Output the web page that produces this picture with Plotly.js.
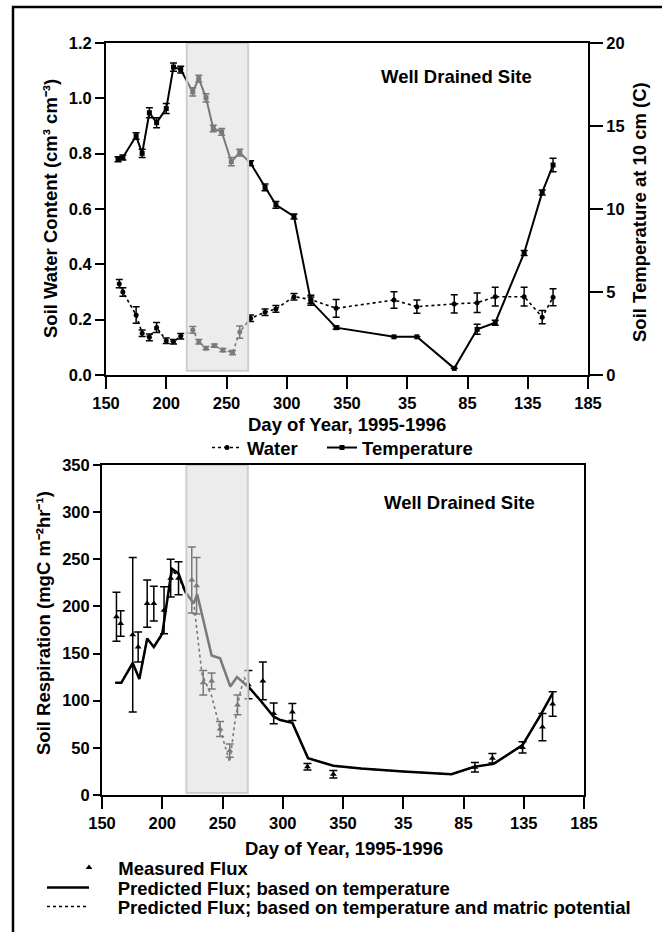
<!DOCTYPE html>
<html>
<head>
<meta charset="utf-8">
<script src="https://cdn.plot.ly/plotly-3.0.1.min.js"></script>
<style>html,body{margin:0;padding:0;background:#fff}#chart{width:662px;height:932px}</style>
</head>
<body>
<div id="chart"></div>
<script>
// ---- Data (day of year, continuous: 1996 days = 365 + day) ----
const dayTickVals = [150, 200, 250, 300, 350, 400, 450, 500, 550];
const dayTickText = ['150', '200', '250', '300', '350', '35', '85', '135', '185'];

// Top panel: soil water content (cm3 cm-3)
const waterDay = [161, 164, 175, 180, 186, 192, 200, 206, 212, 222, 227, 233, 240, 247, 255, 261, 270, 282, 291, 306, 320, 341, 389, 408, 439, 458, 473, 497, 512, 521];
const waterVal = [0.33, 0.30, 0.217, 0.151, 0.136, 0.172, 0.124, 0.120, 0.140, 0.163, 0.120, 0.097, 0.106, 0.090, 0.081, 0.155, 0.205, 0.227, 0.239, 0.283, 0.273, 0.241, 0.271, 0.247, 0.257, 0.261, 0.283, 0.283, 0.209, 0.281];
const waterErr = [0.015, 0.015, 0.03, 0.012, 0.012, 0.018, 0.01, 0.008, 0.01, 0.012, 0.008, 0.006, 0.006, 0.006, 0.008, 0.022, 0.012, 0.012, 0.012, 0.012, 0.015, 0.032, 0.03, 0.024, 0.033, 0.035, 0.034, 0.034, 0.024, 0.031];

// Top panel: soil temperature at 10 cm (C)
const tempDay = [160, 164, 175, 180, 186, 192, 200, 206, 212, 222, 227, 233, 239, 246, 254, 261, 270, 282, 291, 306, 320, 341, 389, 408, 439, 458, 473, 497, 512, 521];
const tempVal = [13.0, 13.1, 14.4, 13.35, 15.8, 15.2, 16.05, 18.55, 18.4, 17.05, 17.85, 16.7, 14.85, 14.65, 12.85, 13.4, 12.75, 11.3, 10.25, 9.55, 4.45, 2.85, 2.3, 2.3, 0.4, 2.75, 3.15, 7.35, 11.0, 12.65];
const tempErr = [0.15, 0.15, 0.2, 0.25, 0.3, 0.3, 0.3, 0.25, 0.2, 0.25, 0.2, 0.25, 0.2, 0.2, 0.25, 0.2, 0.15, 0.2, 0.2, 0.15, 0.25, 0.1, 0, 0, 0, 0.3, 0.15, 0.15, 0.15, 0.4];

// Bottom panel: measured flux (mgC m-2 hr-1)
const fluxDay = [162, 165.5, 175.5, 180, 187.5, 193, 201.5, 207, 213.5, 224.5, 228.5, 234, 241, 248, 256, 262.5, 271.5, 283.5, 292.5, 308, 320.5, 342, 459.5, 474, 499, 515.5, 524];
const fluxVal = [189, 182, 170, 157, 203, 203, 196, 230, 230, 228, 222, 119, 121, 70, 47, 95.5, 117, 121, 86.5, 88, 30, 22, 29.5, 39, 50.5, 72, 96.5];
const fluxErr = [26, 13.5, 82, 16, 25, 18.5, 25, 20, 17.5, 35, 30, 13, 8.5, 8, 7, 10.5, 15, 20, 11, 9, 3.5, 4, 5, 5, 6, 14.5, 13];

// Predicted flux based on temperature
const predTDay = [161, 166, 175.5, 181, 187.5, 193, 200, 208, 213.5, 219, 226, 229, 241, 248, 256.5, 262, 272, 281, 292.5, 298, 308, 321, 342, 365, 400, 440, 459, 475, 499, 514, 524];
const predTVal = [119, 119, 140, 123, 166, 157, 171, 240, 235, 216, 203, 213, 148, 145, 115, 125, 114, 101, 83, 79.5, 76.5, 39, 31, 28, 25, 22, 30, 33, 53, 85, 108];

// Predicted flux based on temperature and matric potential
const predTMDay = [161, 166, 175.5, 181, 187.5, 193, 200, 203, 206, 208, 213.5, 219, 226, 233, 241, 248, 256, 260, 264, 268, 272, 281, 292.5, 298, 308, 321, 342, 365, 400, 440, 459, 475, 499, 514, 524];
const predTMVal = [119, 119, 140, 123, 166, 157, 170, 195, 225, 238, 232, 215, 205, 128, 105, 70, 35, 75, 105, 125, 114, 101, 83, 79.5, 76.5, 39, 31, 28, 25, 22, 30, 33, 53, 85, 108];

// Text labels
const legendWater = 'Water';
const legendTemp = 'Temperature';
const legendMeasured = 'Measured Flux';
const legendPredT = 'Predicted Flux; based on temperature';
const legendPredTM = 'Predicted Flux; based on temperature and matric potential';
const siteLabel = 'Well Drained Site';
const xTitle = 'Day of Year, 1995-1996';
const yTitleWater = 'Soil Water Content (cm\u00b3 cm\u207b\u00b3)';
const yTitleTemp = 'Soil Temperature at 10 cm (C)';
const yTitleResp = 'Soil Respiration (mgC m\u207b\u00b2hr\u207b\u00b9)';

// Shaded period (day range)
const shadeTop = [217, 268];
const shadeBottom = [220, 271];

// ---- Layout helpers ----
const W = 662, H = 932;
const px = v => v / W;
const py = v => 1 - v / H;
const FONT = 'Liberation Sans, Arial, Helvetica, sans-serif';
const tickFont = {family: FONT, size: 16.5, color: '#000', weight: 'bold'};
const bigFont = {family: FONT, size: 18.5, color: '#000', weight: 'bold'};
const PAD = '\u2002\u2002\u00a0'; // gap between a long legend key and its label

const traces = [
  {x: waterDay, y: waterVal, name: legendWater, type: 'scatter', mode: 'lines+markers', xaxis: 'x', yaxis: 'y',
   line: {color: '#000', width: 1.6, dash: 'dot'}, marker: {symbol: 'circle', size: 5, color: '#000'},
   error_y: {type: 'data', array: waterErr, color: '#000', thickness: 1.5, width: 3.5}, legend: 'legend'},
  {x: tempDay, y: tempVal, name: legendTemp, type: 'scatter', mode: 'lines+markers', xaxis: 'x', yaxis: 'y2',
   line: {color: '#000', width: 2}, marker: {symbol: 'square', size: 5, color: '#000'},
   error_y: {type: 'data', array: tempErr, color: '#000', thickness: 1.5, width: 3.5}, legend: 'legend4'},
  {x: predTDay, y: predTVal, name: PAD + legendPredT, type: 'scatter', mode: 'lines', xaxis: 'x2', yaxis: 'y5',
   line: {color: '#000', width: 2.5}, legend: 'legend3'},
  {x: predTMDay, y: predTMVal, name: PAD + legendPredTM, type: 'scatter', mode: 'lines', xaxis: 'x2', yaxis: 'y5',
   line: {color: '#000', width: 1.6, dash: 'dot'}, legend: 'legend5'},
  {x: fluxDay, y: fluxVal, name: '\u2002' + legendMeasured, type: 'scatter', mode: 'markers', xaxis: 'x2', yaxis: 'y5',
   marker: {symbol: 'triangle-up', size: 6, color: '#000'},
   error_y: {type: 'data', array: fluxErr, color: '#000', thickness: 1.5, width: 4}, legend: 'legend2'}
];

const baseAxis = {showgrid: false, zeroline: false, color: '#000', linecolor: '#000', tickcolor: '#000', tickfont: tickFont, fixedrange: true};
const innerAxis = Object.assign({}, baseAxis, {showticklabels: false, showline: false, ticks: 'inside', tickwidth: 2});
const legendBase = {xanchor: 'left', yanchor: 'middle', orientation: 'h', bgcolor: 'rgba(0,0,0,0)', borderwidth: 0, font: bigFont};
const annBase = {xref: 'paper', yref: 'paper', showarrow: false, font: bigFont, xanchor: 'center', yanchor: 'middle'};

const layout = {
  width: W, height: H,
  margin: {l: 0, r: 0, t: 0, b: 0},
  paper_bgcolor: '#fff', plot_bgcolor: 'rgba(0,0,0,0)',
  font: {family: FONT, size: 16.5, color: '#000', weight: 'bold'},
  showlegend: true,
  // ---- Top panel ----
  xaxis: Object.assign({}, baseAxis, {domain: [px(106), px(588)], range: [150, 550], anchor: 'y',
    tickmode: 'array', tickvals: dayTickVals, ticktext: dayTickText, ticks: 'outside', ticklen: 12, tickwidth: 2,
    showline: true, linewidth: 2, mirror: true}),
  yaxis: Object.assign({}, baseAxis, {domain: [py(375), py(43)], range: [0, 1.2], anchor: 'x',
    tickmode: 'array', tickvals: [0, 0.2, 0.4, 0.6, 0.8, 1.0, 1.2], ticktext: ['0.0', '0.2', '0.4', '0.6', '0.8', '1.0', '1.2'],
    ticks: 'outside', ticklen: 9, tickwidth: 2, showline: true, linewidth: 2}),
  yaxis2: Object.assign({}, baseAxis, {overlaying: 'y', side: 'right', anchor: 'x', range: [0, 20],
    tickmode: 'array', tickvals: [0, 5, 10, 15, 20], ticks: 'outside', ticklen: 13, tickwidth: 2, showline: true, linewidth: 2}),
  xaxis3: Object.assign({}, innerAxis, {overlaying: 'x', anchor: 'y', range: [150, 550], tickmode: 'array', tickvals: dayTickVals, ticklen: 4}),
  yaxis3: Object.assign({}, innerAxis, {overlaying: 'y', anchor: 'x', range: [0, 1.2], tickmode: 'array', tickvals: [0, 0.2, 0.4, 0.6, 0.8, 1.0, 1.2], ticklen: 9}),
  yaxis4: Object.assign({}, innerAxis, {overlaying: 'y', side: 'right', anchor: 'x', range: [0, 20], tickmode: 'array', tickvals: [0, 5, 10, 15, 20], ticklen: 14}),
  // ---- Bottom panel ----
  xaxis2: Object.assign({}, baseAxis, {domain: [px(102), px(584)], range: [150, 550], anchor: 'y5',
    tickmode: 'array', tickvals: dayTickVals, ticktext: dayTickText, ticks: 'outside', ticklen: 12, tickwidth: 2,
    showline: true, linewidth: 2, mirror: true}),
  yaxis5: Object.assign({}, baseAxis, {domain: [py(795), py(465)], range: [0, 350], anchor: 'x2',
    tickmode: 'array', tickvals: [0, 50, 100, 150, 200, 250, 300, 350], ticks: 'outside', ticklen: 7, tickwidth: 2,
    showline: true, linewidth: 2, mirror: true}),
  xaxis4: Object.assign({}, innerAxis, {overlaying: 'x2', anchor: 'y5', range: [150, 550], tickmode: 'array', tickvals: dayTickVals, ticklen: 3}),
  yaxis6: Object.assign({}, innerAxis, {overlaying: 'y5', anchor: 'x2', range: [0, 350], tickmode: 'array', tickvals: [0, 50, 100, 150, 200, 250, 300, 350], ticklen: 8}),
  // ---- Legends ----
  legend: Object.assign({}, legendBase, {x: px(207), y: py(448), itemwidth: 30}),
  legend4: Object.assign({}, legendBase, {x: px(322), y: py(448), itemwidth: 30}),
  legend2: Object.assign({}, legendBase, {x: px(69), y: py(868), itemwidth: 30}),
  legend3: Object.assign({}, legendBase, {x: px(42), y: py(888), itemwidth: 42}),
  legend5: Object.assign({}, legendBase, {x: px(42), y: py(907), itemwidth: 42}),
  shapes: [
    // outer frame
    {type: 'rect', xref: 'paper', yref: 'paper', x0: px(13), x1: px(720), y0: py(1000), y1: py(7), line: {color: '#000', width: 2.5}, fillcolor: 'rgba(0,0,0,0)', layer: 'above'},
    // shaded periods
    {type: 'rect', xref: 'x', yref: 'y', x0: shadeTop[0], x1: shadeTop[1], y0: 0.015, y1: 1.2, fillcolor: 'rgba(220,220,220,0.55)', line: {color: '#cfcfcf', width: 2}, layer: 'above'},
    {type: 'rect', xref: 'x2', yref: 'y5', x0: shadeBottom[0], x1: shadeBottom[1], y0: 2, y1: 350, fillcolor: 'rgba(220,220,220,0.55)', line: {color: '#cfcfcf', width: 2}, layer: 'above'}
  ],
  annotations: [
    Object.assign({}, annBase, {text: siteLabel, x: px(456), y: py(77)}),
    Object.assign({}, annBase, {text: siteLabel, x: px(459), y: py(502)}),
    Object.assign({}, annBase, {text: xTitle, x: px(347), y: py(425)}),
    Object.assign({}, annBase, {text: xTitle, x: px(344), y: py(848)}),
    Object.assign({}, annBase, {text: yTitleWater, x: px(50), y: py(209), textangle: -90}),
    Object.assign({}, annBase, {text: yTitleTemp, x: px(640), y: py(212), textangle: -90}),
    Object.assign({}, annBase, {text: yTitleResp, x: px(43), y: py(623), textangle: -90})
  ]
};

Plotly.newPlot('chart', traces, layout, {staticPlot: true, displayModeBar: false});
</script>
</body>
</html>
